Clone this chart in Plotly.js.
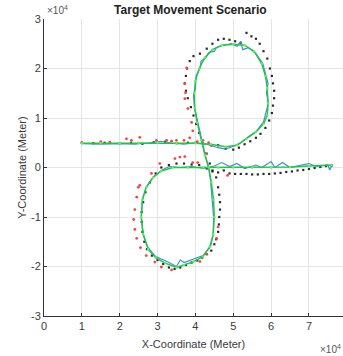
<!DOCTYPE html>
<html>
<head>
<meta charset="utf-8">
<script src="https://cdn.plot.ly/plotly-3.0.1.min.js"></script>
<style>html,body{margin:0;padding:0;background:#fff;}#chart{width:343px;height:356px;}</style>
</head>
<body>
<div id="chart"></div>
<script>
// Coordinates in units of 10^4 metres
const trueX = [1.0,1.5,2.0,2.5,3.0,3.5,4.0,4.4,4.8,5.1,5.35,5.6,5.8,5.9,5.92,5.9,5.85,5.75,5.55,5.3,5.0,4.7,4.45,4.25,4.1,4.0,3.97,3.98,4.05,4.15,4.25,4.35,4.42,4.48,4.5,4.47,4.38,4.2,3.95,3.7,3.5,3.2,2.95,2.75,2.62,2.57,2.6,2.7,2.88,3.1,3.4,3.8,4.2,4.6,5.0,5.5,6.0,6.5,7.0,7.6];
const trueY = [0.49,0.49,0.49,0.5,0.5,0.5,0.49,0.47,0.42,0.45,0.58,0.72,0.88,1.05,1.3,1.6,1.85,2.1,2.35,2.47,2.49,2.47,2.38,2.22,2.0,1.75,1.5,1.2,0.9,0.55,0.25,0.0,-0.3,-0.65,-1.0,-1.35,-1.6,-1.8,-1.9,-1.97,-2.02,-1.93,-1.82,-1.65,-1.35,-1.0,-0.65,-0.4,-0.2,-0.07,0.0,0.0,0.0,0.0,0.0,0.0,0.0,0.01,0.03,0.05];

const estX = [1.0,1.5,2.0,2.4,2.8,3.1,3.4,3.7,4.0,4.3,4.6,4.8,5.0,5.2,5.4,5.6,5.8,5.87,5.93,5.88,5.92,5.85,5.78,5.6,5.4,5.25,5.2,5.1,4.95,4.7,4.55,4.5,4.35,4.28,4.15,4.12,4.02,4.0,3.95,3.98,4.05,4.12,4.2,4.28,4.35,4.4,4.45,4.48,4.47,4.4,4.2,3.95,3.7,3.6,3.5,3.25,2.95,2.75,2.62,2.57,2.6,2.7,2.9,3.1,3.3,3.6,3.9,4.2,4.5,4.7,4.9,5.1,5.3,5.6,5.75,6.0,6.1,6.3,6.5,6.8,7.0,7.2,7.5,7.55,7.6];
const estY = [0.48,0.47,0.48,0.47,0.5,0.53,0.49,0.47,0.5,0.47,0.4,0.37,0.43,0.5,0.62,0.72,0.92,1.1,1.3,1.5,1.7,1.9,2.1,2.3,2.42,2.38,2.55,2.45,2.5,2.46,2.42,2.35,2.32,2.22,2.15,2.0,1.85,1.6,1.45,1.2,0.95,0.7,0.45,0.2,0.0,-0.25,-0.7,-1.0,-1.35,-1.6,-1.78,-1.85,-1.92,-1.87,-2.0,-1.9,-1.8,-1.62,-1.35,-1.0,-0.65,-0.4,-0.18,-0.06,0.02,0.0,0.02,-0.02,0.03,0.1,0.02,0.08,-0.02,0.05,0.0,0.12,0.0,0.1,0.0,0.05,0.08,0.02,0.05,-0.05,0.03];

const measAX = [1.0,1.3,1.6,2.0,2.3,2.6,2.9,3.2,3.5,3.8,4.0,4.2,4.4,4.6,4.8,5.0,5.15,5.3,5.45,5.6,5.72,5.85,5.95,6.02,6.05,6.08,6.08,6.05,6.02,5.97,5.9,5.8,5.7,5.6,5.48,5.35,5.2,5.05,4.9,4.75,4.6,4.45,4.3,4.12,3.95,3.85,3.78,3.75,3.72,3.75,3.8,3.88,3.95,4.02,4.1,4.18,4.28,4.38,4.45,4.55,4.6,4.63,4.65,4.65,4.63,4.62,4.6,4.55,4.5,4.42,4.3,4.18,4.05,3.9,3.75,3.6,3.45,3.3,3.15,3.0,2.85,2.72,2.65,2.6,2.58,2.58,2.62,2.68,2.8,2.95,3.1,3.3,3.5,3.7,3.9,4.1,4.3,4.45,4.6,4.75,4.9,5.05,5.2,5.35,5.5,5.65,5.8,5.95,6.1,6.25,6.4,6.55,6.7,6.85,7.0,7.15,7.3,7.45,7.6];
const measAY = [0.5,0.49,0.5,0.49,0.5,0.48,0.51,0.52,0.49,0.5,0.5,0.48,0.46,0.45,0.38,0.36,0.4,0.47,0.53,0.6,0.68,0.8,0.95,1.1,1.25,1.4,1.55,1.7,1.85,2.0,2.2,2.35,2.5,2.6,2.65,2.72,2.52,2.55,2.58,2.6,2.58,2.5,2.4,2.3,2.25,2.15,2.0,1.85,1.7,1.55,1.4,1.22,1.05,0.88,0.7,0.5,0.28,0.08,-0.08,-0.2,-0.4,-0.55,-0.7,-0.85,-1.0,-1.15,-1.3,-1.45,-1.55,-1.68,-1.75,-1.82,-1.88,-1.92,-1.97,-2.02,-2.05,-2.02,-1.95,-1.87,-1.78,-1.65,-1.5,-1.3,-1.1,-0.9,-0.7,-0.5,-0.3,-0.12,0.0,0.05,0.08,0.08,0.06,0.05,-0.02,-0.06,-0.1,-0.06,-0.12,-0.13,-0.13,-0.13,-0.14,-0.14,-0.13,-0.13,-0.12,-0.11,-0.09,-0.08,-0.06,-0.05,-0.03,-0.01,0.01,0.03,0.04];

const measBX = [1.0,1.5,1.74,2.18,2.31,2.53,2.97,3.24,3.37,3.5,3.7,3.85,4.05,4.2,4.35,3.93,3.9,3.8,3.72,3.74,3.72,3.77,4.42,4.3,2.53,2.84,3.06,3.46,3.59,3.72,3.93,4.06,4.85,2.49,2.45,2.4,2.37,2.4,2.45,2.55,2.7,2.93,3.1,3.37,4.12,4.3,4.56,4.6];
const measBY = [0.5,0.52,0.51,0.58,0.55,0.61,0.55,0.55,0.53,0.55,0.55,0.6,0.52,0.55,0.5,0.74,0.91,1.19,1.39,1.51,1.69,2.01,0.44,0.28,-0.36,-0.12,0.08,0.18,0.21,0.22,0.1,0.1,-0.16,-0.4,-0.6,-0.85,-1.05,-1.25,-1.43,-1.62,-1.78,-1.91,-2.01,-2.07,-1.9,-1.75,-1.43,-1.2];

const xTicks = [0,1,2,3,4,5,6,7];
const yTicks = [-3,-2,-1,0,1,2,3];

const traces = [
  {x: measAX, y: measAY, type:'scatter', mode:'markers', marker:{color:'#2a2a2a', size:2.2, symbol:'square'}, hoverinfo:'skip'},
  {x: measBX, y: measBY, type:'scatter', mode:'markers', marker:{color:'#ff4040', size:2.8}, hoverinfo:'skip'},
  {x: estX, y: estY, type:'scatter', mode:'lines', line:{color:'#3d8fd8', width:1.2}, hoverinfo:'skip'},
  {x: trueX, y: trueY, type:'scatter', mode:'lines+markers', line:{color:'#22c444', width:1.4}, marker:{color:'#66ee55', size:2.5}, hoverinfo:'skip'}
];

const FF = 'Liberation Sans, Arial, sans-serif';
const tickFont = {family:FF, size:11, color:'#3a3a3a'};
const layout = {
  width:343, height:356,
  margin:{l:44, r:0, t:19, b:40},
  paper_bgcolor:'#fff', plot_bgcolor:'#fff',
  showlegend:false,
  title:{text:'<b>Target Movement Scenario</b>', font:{family:FF, size:12, color:'#222'}, x:0.555, xanchor:'center', y:0.972, yanchor:'middle'},
  xaxis:{range:[0,7.9], tickvals:xTicks, ticktext:xTicks.map(String), showgrid:true, gridcolor:'#e4e4e4', zeroline:false,
    showline:true, linecolor:'#333', linewidth:1, ticks:'inside', ticklen:3, tickcolor:'#333', tickfont:tickFont,
    title:{text:'X-Coordinate (Meter)', font:{family:FF, size:11, color:'#3a3a3a'}, standoff:9}},
  yaxis:{range:[-3,3], tickvals:yTicks, ticktext:yTicks.map(String), showgrid:true, gridcolor:'#e4e4e4', zeroline:false,
    showline:true, linecolor:'#333', linewidth:1, ticks:'inside', ticklen:3, tickcolor:'#333', tickfont:tickFont,
    title:{text:'Y-Coordinate (Meter)', font:{family:FF, size:11, color:'#3a3a3a'}, standoff:2}},
  annotations:[
    {xref:'paper', yref:'paper', x:0, y:1, xanchor:'left', yanchor:'bottom', xshift:1, yshift:1, showarrow:false,
     text:'×10<sup>4</sup>', font:{family:FF, size:10, color:'#555'}},
    {xref:'paper', yref:'paper', x:1, y:0, xanchor:'right', yanchor:'top', xshift:0, yshift:-25, showarrow:false,
     text:'×10<sup>4</sup>', font:{family:FF, size:10, color:'#555'}}
  ]
};
Plotly.newPlot('chart', traces, layout, {displayModeBar:false, staticPlot:true});
</script>
</body>
</html>
